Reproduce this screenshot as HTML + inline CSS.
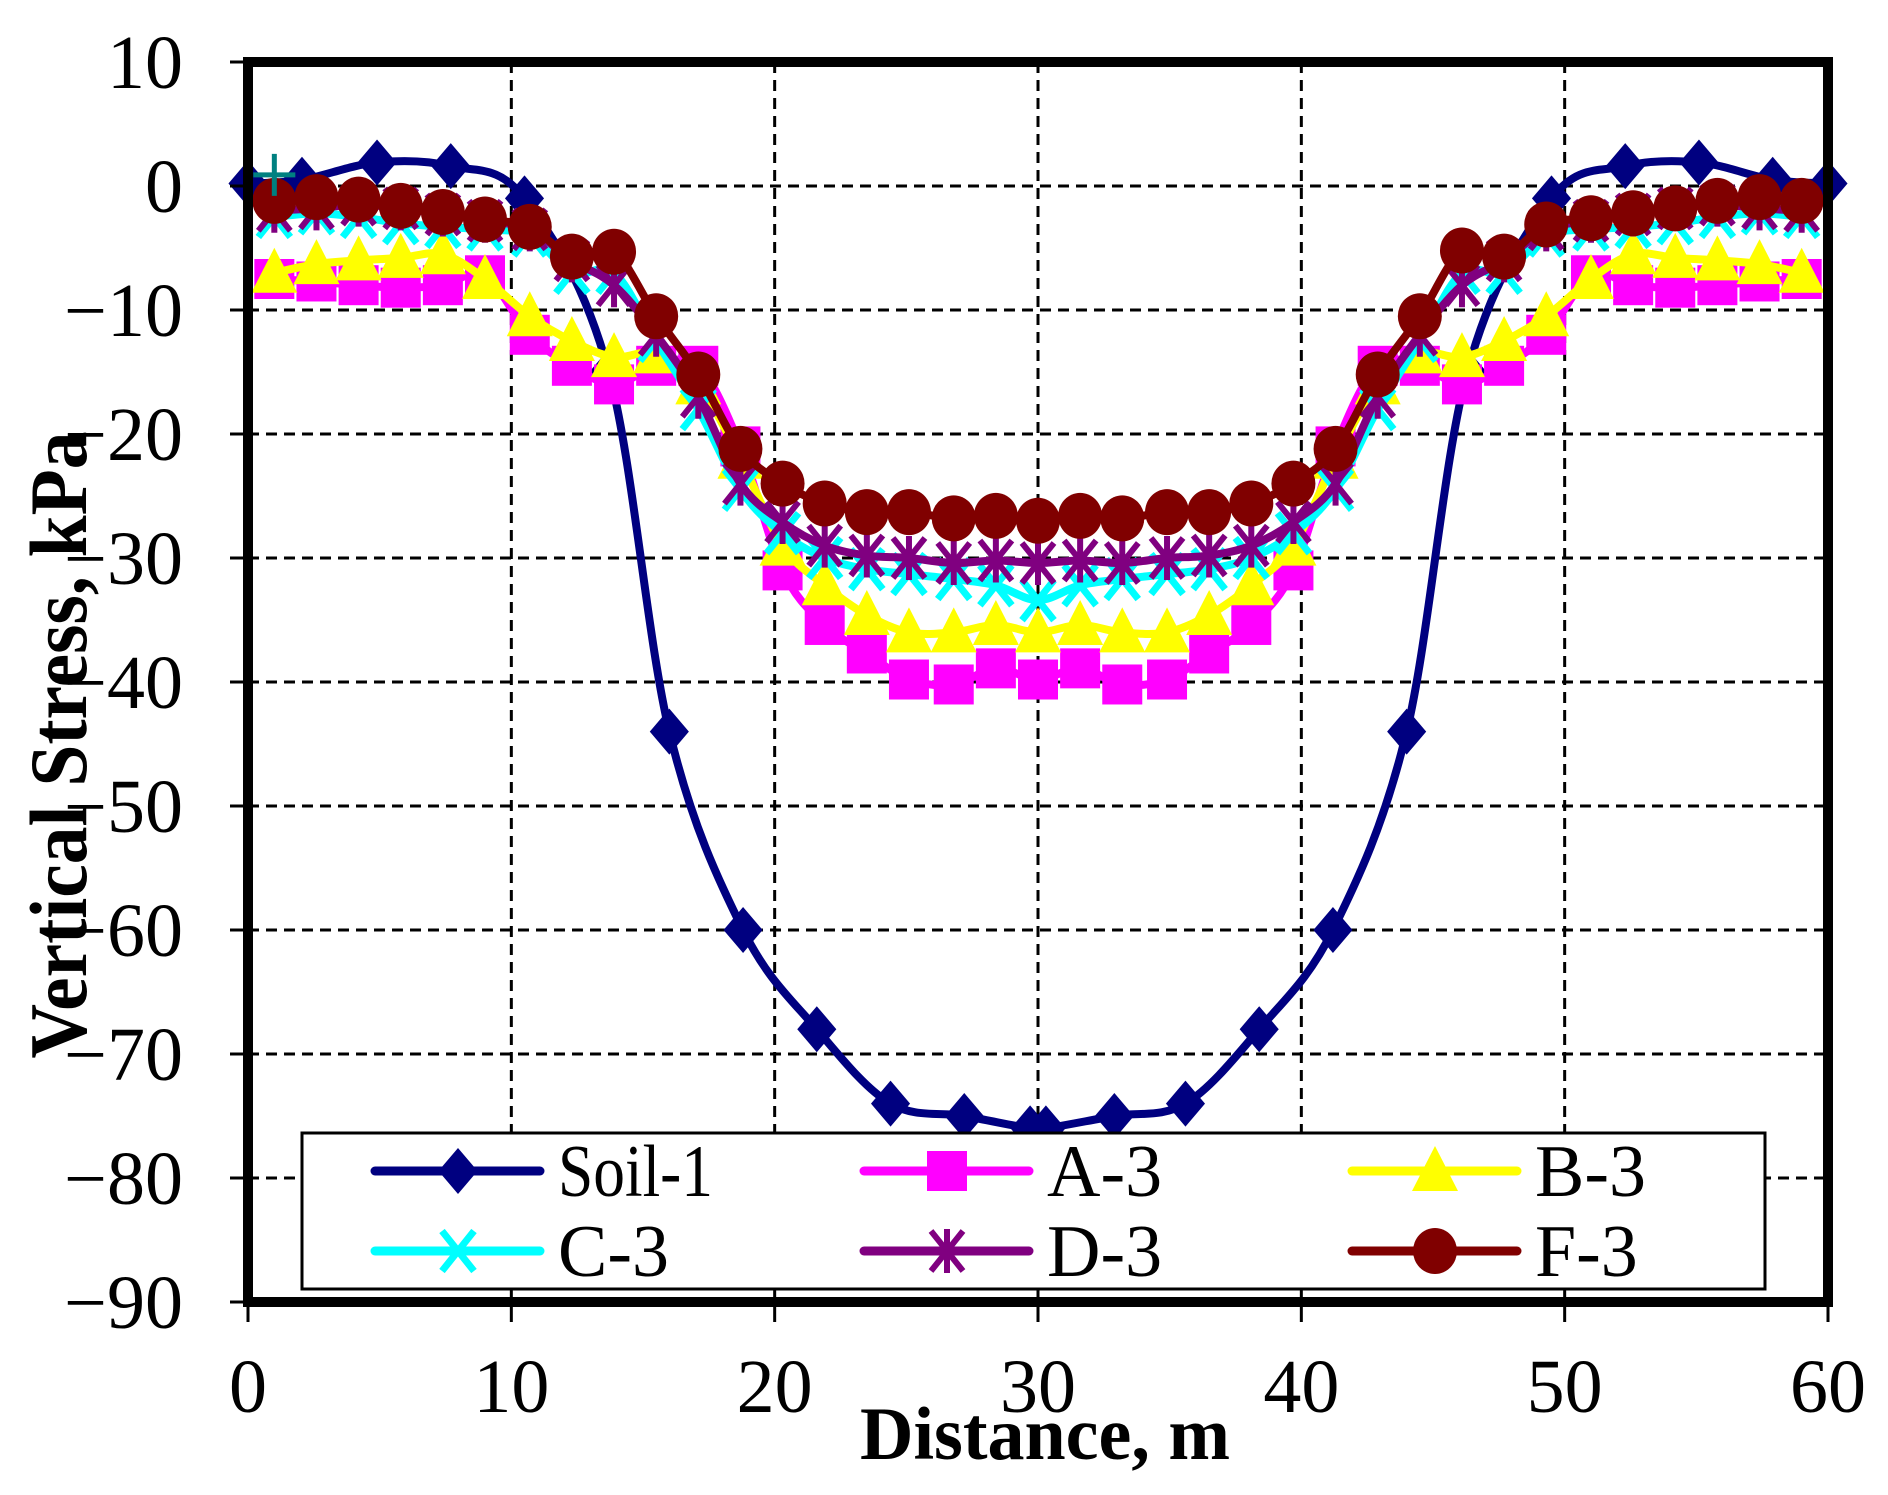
<!DOCTYPE html>
<html><head><meta charset="utf-8"><style>
html,body{margin:0;padding:0;background:#fff}
svg{display:block}
text{font-family:"Liberation Serif",serif}
</style></head><body>
<svg id="chart" width="1888" height="1495" viewBox="0 0 1888 1495" xmlns="http://www.w3.org/2000/svg">
<g id="grid"></g>
<g id="series"></g>
<g id="frame"></g>
<g id="ticks"></g>
<text x="1045" y="1459" font-size="75" font-weight="bold" text-anchor="middle" textLength="370" lengthAdjust="spacingAndGlyphs">Distance, m</text>
<text x="0" y="0" font-size="82" font-weight="bold" text-anchor="middle" transform="translate(86,745) rotate(-90)" textLength="627" lengthAdjust="spacingAndGlyphs">Vertical Stress, kPa</text>
<g id="legend"></g>
</svg>
<script>
const xTicks=[0,10,20,30,40,50,60];
const yTicks=[10,0,-10,-20,-30,-40,-50,-60,-70,-80,-90];
const soilX=[0,2.05,4.9,7.7,10.5,13.7,16.0,18.8,21.6,24.4,27.2,29.7,30.3,32.9,35.6,38.4,41.2,44.0,46.3,49.5,52.3,55.1,57.9,60];
const soilY=[0.2,0.5,1.9,1.6,-1.0,-15,-44,-60,-68,-74,-75,-76,-76,-75,-74,-68,-60,-44,-15,-1.0,1.6,1.9,0.5,0.2];
const ptX=[1.0,2.6,4.2,5.8,7.4,9.0,10.7,12.3,13.9,15.5,17.1,18.7,20.3,21.9,23.5,25.1,26.8,28.4,30.0,31.6,33.2,34.9,36.5,38.1,39.7,41.3,42.9,44.5,46.1,47.7,49.3,51.0,52.6,54.2,55.8,57.4,59.0];
const a3Y=[-7.5,-7.7,-8,-8.2,-8,-7.2,-12,-14.5,-16,-14.5,-14.5,-21,-31,-35.4,-37.7,-39.8,-40.2,-38.9,-39.8,-38.9,-40.2,-39.8,-37.7,-35.4,-31,-21,-14.5,-14.5,-16,-14.5,-12,-7.2,-8,-8.2,-8,-7.7,-7.5];
const b3Y=[-7,-6.3,-6,-5.8,-5.5,-7.5,-10.5,-12.5,-13.8,-13.5,-16,-22,-29,-32.2,-34.6,-36,-36,-35.4,-36,-35.4,-36,-36,-34.6,-32.2,-29,-22,-16,-13.5,-13.8,-12.5,-10.5,-7.5,-5.5,-5.8,-6,-6.3,-7];
const c3Y=[-2.5,-2.2,-2.5,-3,-3.3,-3.5,-4,-7,-7,-12.5,-18,-24.5,-28,-30,-30.9,-31.3,-31.7,-32.2,-33.4,-32.2,-31.7,-31.3,-30.9,-30,-28,-24.5,-18,-12.5,-7,-7,-4,-3.5,-3.3,-3,-2.5,-2.2,-2.5];
const d3Y=[-2,-1.8,-1.5,-1.8,-2.3,-2.8,-3.5,-6,-8,-12,-17,-24,-27.1,-29,-29.8,-30,-30.4,-30.2,-30.4,-30.2,-30.4,-30,-29.8,-29,-27.1,-24,-17,-12,-8,-6,-3.5,-2.8,-2.3,-1.8,-1.5,-1.8,-2];
const f3Y=[-1.2,-0.9,-1.1,-1.6,-2.1,-2.7,-3.3,-5.7,-5.3,-10.5,-15.2,-21.2,-24,-25.6,-26.3,-26.3,-26.8,-26.6,-27,-26.6,-26.8,-26.3,-26.3,-25.6,-24,-21.2,-15.2,-10.5,-5.2,-5.7,-3.1,-2.6,-2.2,-1.8,-1.2,-0.9,-1.2];
const strayX=[1.0], strayY=[0.9];
const seriesNames=["Soil-1","A-3","B-3","C-3","D-3","F-3"];

const NS="http://www.w3.org/2000/svg";
const L=248,R=1828,T=62,B=1302;
function sx(v){return L+(v-0)/(60-0)*(R-L);}
function sy(v){return T+(10-v)/(10-(-90))*(B-T);}
function mk(tag,attrs,parent){const e=document.createElementNS(NS,tag);for(const k in attrs)e.setAttribute(k,attrs[k]);parent.appendChild(e);return e;}

const grid=document.getElementById('grid');
xTicks.forEach(v=>{if(v>0&&v<60){const l=mk('line',{x1:sx(v),x2:sx(v),y1:T,y2:B,stroke:'#000','stroke-width':3,'stroke-dasharray':'11 7'},grid);

}});
yTicks.forEach(v=>{if(v<10&&v>-90){const l=mk('line',{x1:L,x2:R,y1:sy(v),y2:sy(v),stroke:'#000','stroke-width':3,'stroke-dasharray':'11 7'},grid);

}});

function smoothPath(xs,ys){
  const p=xs.map((x,i)=>[sx(x),sy(ys[i])]);
  let d='M'+p[0][0]+','+p[0][1];
  for(let i=0;i<p.length-1;i++){
    const p0=p[i-1]||p[i],p1=p[i],p2=p[i+1],p3=p[i+2]||p2;
    const c1=[p1[0]+(p2[0]-p0[0])/6,p1[1]+(p2[1]-p0[1])/6];
    const c2=[p2[0]-(p3[0]-p1[0])/6,p2[1]-(p3[1]-p1[1])/6];
    d+=' C'+c1[0]+','+c1[1]+' '+c2[0]+','+c2[1]+' '+p2[0]+','+p2[1];
  }
  return d;
}
function marker(type,x,y,color,parent){
  const s=23;let e;
  if(type==='diamond')e=mk('polygon',{points:`${x},${y-s} ${x+s*0.85},${y} ${x},${y+s} ${x-s*0.85},${y}`,fill:color},parent);
  else if(type==='square')e=mk('rect',{x:x-20,y:y-20,width:40,height:40,fill:color},parent);
  else if(type==='triangle')e=mk('polygon',{points:`${x},${y-25} ${x+23},${y+20} ${x-23},${y+20}`,fill:color},parent);
  else if(type==='circle')e=mk('ellipse',{cx:x,cy:y,rx:22,ry:23,fill:color},parent);
  else if(type==='x'){e=mk('path',{d:`M${x-16},${y-20}L${x+16},${y+20}M${x+16},${y-20}L${x-16},${y+20}`,stroke:color,'stroke-width':7,fill:'none'},parent);}
  else if(type==='star'){e=mk('path',{d:`M${x-16},${y-20}L${x+16},${y+20}M${x+16},${y-20}L${x-16},${y+20}M${x},${y-22}L${x},${y+22}`,stroke:color,'stroke-width':6,fill:'none'},parent);}
  else if(type==='plus'){e=mk('path',{d:`M${x-21},${y}L${x+21},${y}M${x},${y-21}L${x},${y+21}`,stroke:color,'stroke-width':5,fill:'none'},parent);}
  
  
  return e;
}
const seriesDefs=[
 {xs:soilX,ys:soilY,color:'#000080',m:'diamond'},
 {xs:ptX,ys:a3Y,color:'#FF00FF',m:'square'},
 {xs:ptX,ys:b3Y,color:'#FFFF00',m:'triangle'},
 {xs:ptX,ys:c3Y,color:'#00FFFF',m:'x'},
 {xs:ptX,ys:d3Y,color:'#800080',m:'star'},
 {xs:ptX,ys:f3Y,color:'#800000',m:'circle'}
];
const sg=document.getElementById('series');
seriesDefs.forEach((s,i)=>{
  const g=mk('g',{},sg);
  
  
  const p=mk('path',{d:smoothPath(s.xs,s.ys),stroke:s.color,'stroke-width':8,fill:'none','stroke-linejoin':'round'},g);
  
  
  s.xs.forEach((x,j)=>marker(s.m,sx(x),sy(s.ys[j]),s.color,g));
});
strayX.forEach((x,i)=>marker('plus',sx(x),sy(strayY[i]),'#008080',sg));

const fr=document.getElementById('frame');
const rect=mk('rect',{x:L,y:T,width:R-L,height:B-T,fill:'none',stroke:'#000','stroke-width':10},fr);



const tk=document.getElementById('ticks');
yTicks.forEach(v=>{
  const l=mk('line',{x1:L-18,x2:L,y1:sy(v),y2:sy(v),stroke:'#000','stroke-width':3},tk);
  
  
  const t=mk('text',{x:183,y:sy(v)+26,'font-size':76,'text-anchor':'end'},tk);
  t.textContent=v<0?'\u2212'+(-v):String(v);
  
  
});
xTicks.forEach(v=>{
  const l=mk('line',{x1:sx(v),x2:sx(v),y1:B,y2:B+20,stroke:'#000','stroke-width':3},tk);
  
  
  const t=mk('text',{x:sx(v),y:1412,'font-size':76,'text-anchor':'middle'},tk);
  t.textContent=String(v);
  
  
});

const lg=document.getElementById('legend');
const lbox=mk('rect',{x:302,y:1133,width:1463,height:156,fill:'#fff',stroke:'#000','stroke-width':3},lg);


const colX=[375,864,1352], rowY=[1171,1251];
seriesDefs.forEach((s,i)=>{
  const cx=colX[i%3], cy=rowY[Math.floor(i/3)];
  const g=mk('g',{},lg);
  
  
  mk('line',{x1:cx,x2:cx+165,y1:cy,y2:cy,stroke:s.color,'stroke-width':9,'stroke-linecap':'round'},g);
  marker(s.m,cx+83,cy,s.color,g);
  const t=mk('text',{x:cx+183,y:cy+25,'font-size':74},g);
  t.textContent=seriesNames[i];
  if(i===0)t.setAttribute('textLength','155');
  t.setAttribute('lengthAdjust','spacingAndGlyphs');
});
</script>
</body></html>
